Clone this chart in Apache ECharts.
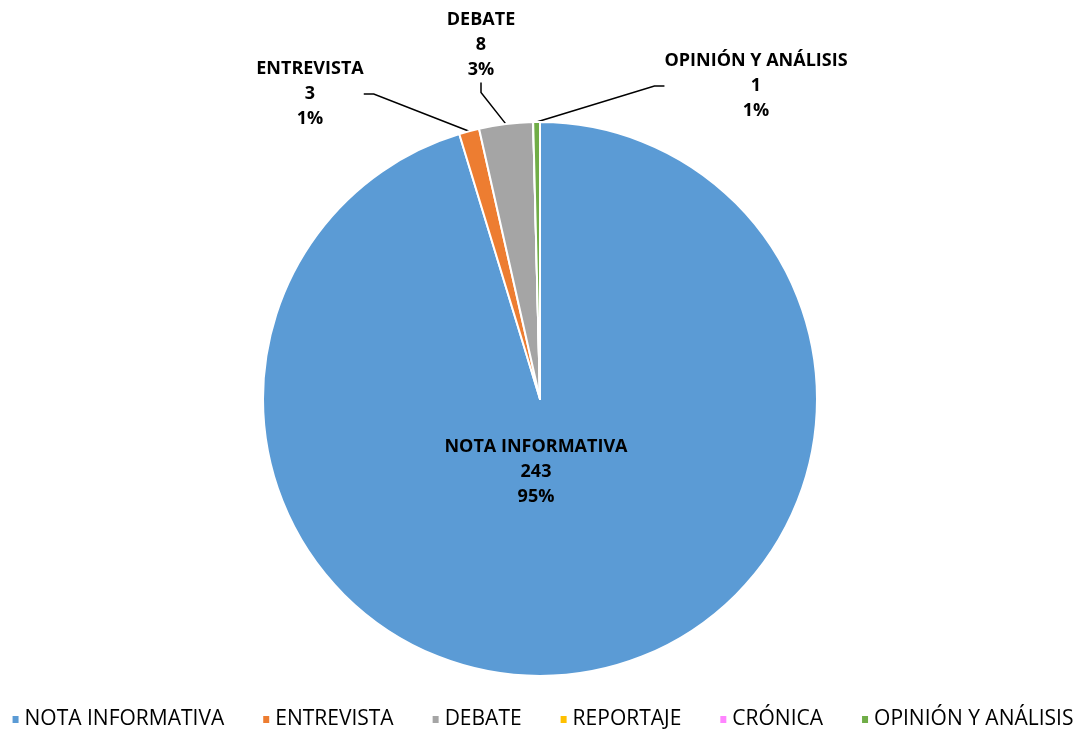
<!DOCTYPE html>
<html>
<head>
<meta charset="utf-8">
<script src="https://cdn.jsdelivr.net/npm/echarts@6/dist/echarts.min.js"></script>
<style>
  html, body { margin: 0; padding: 0; background: #fff; }
  #chart { width: 1084px; height: 729px; }
</style>
</head>
<body>
<div id="chart"></div>
<script>
const categories = ['NOTA INFORMATIVA', 'ENTREVISTA', 'DEBATE', 'REPORTAJE', 'CRÓNICA', 'OPINIÓN Y ANÁLISIS']
const counts = [243, 3, 8, 0, 0, 1]
const percentLabels = ['95%', '1%', '3%', '0%', '0%', '1%']
const colors = ['#5B9BD5', '#ED7D31', '#A5A5A5', '#FFC000', '#FF85FF', '#70AD47']

// where each label block sits (centre of the text), by data index
const labelSpots = [[536, 472], [310, 94], [481, 45], null, null, [756, 86]]

const fontFamily = '"Open Sans", Lato, sans-serif'

const chart = echarts.init(document.getElementById('chart'))

const seriesData = categories.map((name, i) => ({
  name,
  value: counts[i],
  itemStyle: { color: colors[i] },
  label: { show: counts[i] > 0 },
  labelLine: { show: counts[i] > 0 && i > 0 }
}))

chart.setOption({
  animation: false,
  legend: {
    top: 704,
    left: 'center',
    icon: 'rect',
    itemWidth: 8,
    itemHeight: 9,
    itemGap: 37,
    textStyle: { fontFamily, fontSize: 21, color: '#000' },
    data: categories
  },
  series: [{
    type: 'pie',
    center: [540, 399],
    radius: 277,
    startAngle: 90,
    clockwise: true,
    avoidLabelOverlap: false,
    itemStyle: { borderColor: '#fff', borderWidth: 2 },
    label: {
      position: 'outside',
      fontFamily,
      fontSize: 18,
      fontWeight: 'bold',
      color: '#000',
      lineHeight: 25,
      align: 'center',
      formatter: p => p.name + '\n' + p.value + '\n' + percentLabels[p.dataIndex]
    },
    labelLine: {
      length: 20,
      length2: 10,
      lineStyle: { color: '#000', width: 1.5 }
    },
    labelLayout: p => {
      const spot = labelSpots[p.dataIndex]
      if (!spot) return {}
      return { x: spot[0], y: spot[1], align: 'center', verticalAlign: 'middle' }
    },
    data: seriesData
  }]
})
</script>
</body>
</html>
